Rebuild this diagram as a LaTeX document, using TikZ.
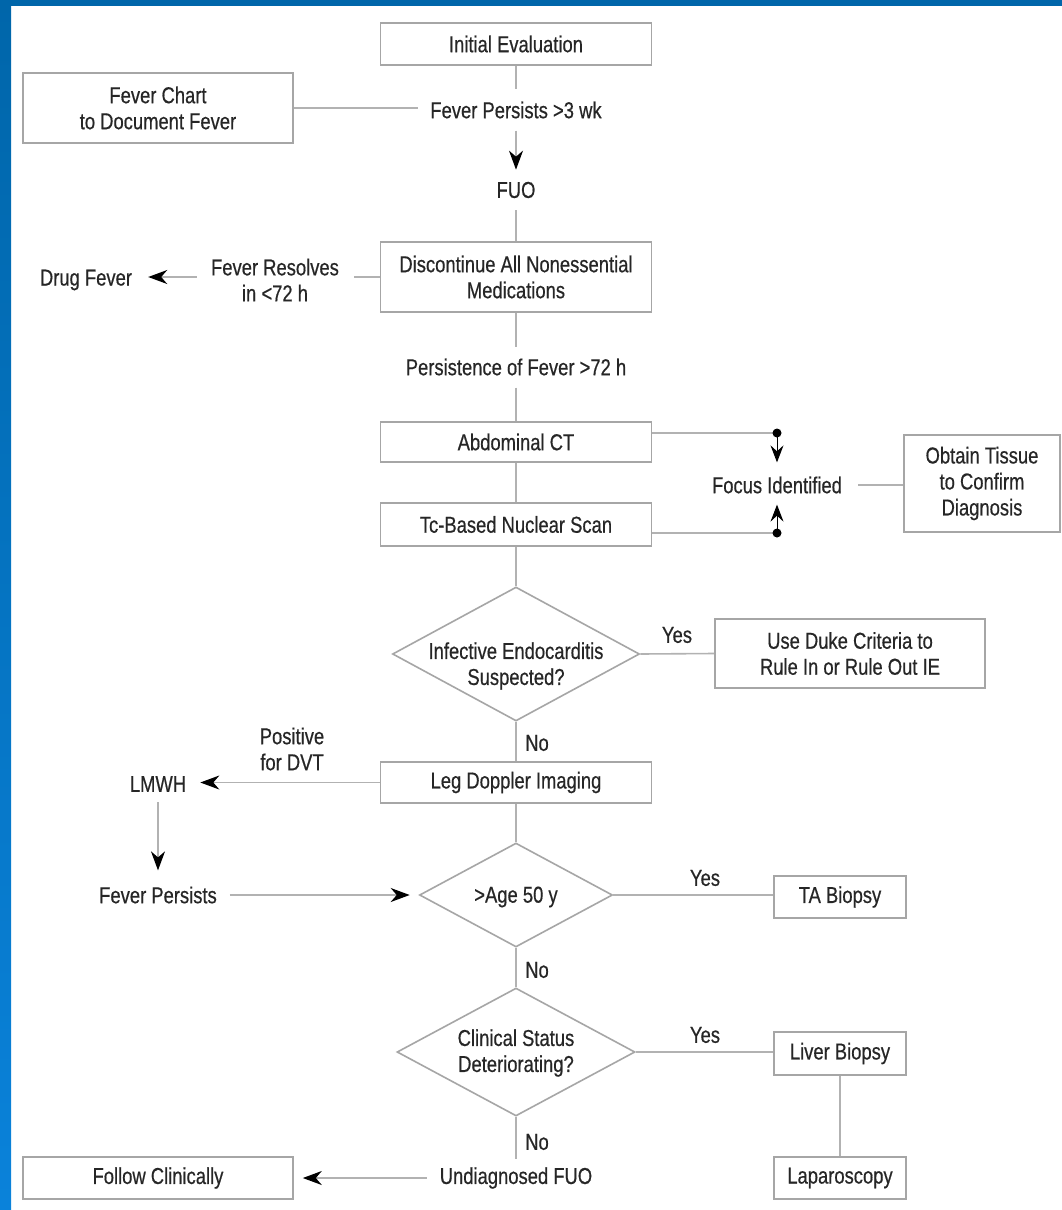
\documentclass[tikz,border=0pt]{standalone}
\usepackage{fontspec}
\setmainfont{Liberation Sans}[FakeStretch=0.8,FakeBold=0.5]
\usetikzlibrary{shapes.geometric,arrows.meta}
\definecolor{boxc}{HTML}{A6A6A6}
\definecolor{linec}{HTML}{B2B2B2}
\definecolor{textc}{HTML}{262626}
\definecolor{bluetop}{HTML}{0066AA}
\definecolor{bluebot}{HTML}{0A82DA}
\tikzset{
  txt/.style={font=\fontsize{23}{26}\selectfont, text=textc, inner sep=0pt, align=center},
  boxn/.style={txt, draw=boxc, line width=1.6pt, rectangle},
  dia/.style={draw=boxc, line width=1.6pt, diamond, inner sep=0pt},
  conn/.style={draw=linec, line width=1.6pt},
  arr/.style={conn, -{Stealth[length=19pt,width=14pt,inset=6pt,black]}},
  darr/.style={draw=black, line width=1pt, -{Stealth[length=17pt,width=13pt,inset=6pt,black]}},
}
\begin{document}
\begin{tikzpicture}[x=1pt,y=-1pt]
\useasboundingbox (0,0) rectangle (1062,1210);
\fill[white] (0,0) rectangle (1062,1210);
\shade[top color=bluetop,bottom color=bluebot] (0,0) rectangle (11,1210);
\fill[bluetop] (0,0) rectangle (1062,6);

% nodes
\node[boxn, minimum width=271, minimum height=42] (ie) at (516,44) {Initial Evaluation};
\node[txt] (fp3) at (516,110) {Fever Persists >3 wk};
\node[boxn, minimum width=270, minimum height=70] (fc) at (158,108) {Fever Chart\\to Document Fever};
\node[txt] (fuo) at (516,190) {FUO};
\node[boxn, minimum width=271, minimum height=70] (dc) at (516,277) {Discontinue All Nonessential\\Medications};
\node[txt] (df) at (86,280) {Drug Fever};
\node[txt] (fr) at (275,280) {Fever Resolves\\in <72 h};
\node[txt] (pf) at (516,367) {Persistence of Fever >72 h};
\node[boxn, minimum width=271, minimum height=40] (act) at (516,442) {Abdominal CT};
\node[boxn, minimum width=271, minimum height=43] (tc) at (516,524.5) {Tc-Based Nuclear Scan};
\node[txt] (fi) at (777,485) {Focus Identified};
\node[boxn, minimum width=156, minimum height=97] (ot) at (982,483.5) {Obtain Tissue\\to Confirm\\Diagnosis};
\node[dia, minimum width=247, minimum height=134] (d1) at (516,654) {};
\node[txt] (d1t) at (516,666) {Infective Endocarditis\\Suspected?};
\node[boxn, minimum width=270, minimum height=69] (duke) at (850,653.5) {Use Duke Criteria to\\Rule In or Rule Out IE};
\node[boxn, minimum width=271, minimum height=41] (leg) at (516,782.5) {Leg Doppler Imaging};
\node[txt] (lmwh) at (158,784) {LMWH};
\node[txt] (pos) at (292,749) {Positive\\for DVT};
\node[txt] (fp) at (158,895) {Fever Persists};
\node[dia, minimum width=193, minimum height=104] (d2) at (516,895) {};
\node[txt] (d2t) at (516,897) {>Age 50 y};
\node[boxn, minimum width=132, minimum height=42] (ta) at (840,897) {TA Biopsy};
\node[dia, minimum width=238, minimum height=128] (d3) at (516,1052) {};
\node[txt] (d3t) at (516,1053) {Clinical Status\\Deteriorating?};
\node[boxn, minimum width=132, minimum height=43] (lb) at (840,1053.5) {Liver Biopsy};
\node[boxn, minimum width=132, minimum height=42] (lap) at (840,1178) {Laparoscopy};
\node[txt] (ufuo) at (516,1178) {Undiagnosed FUO};
\node[boxn, minimum width=270, minimum height=42] (follow) at (158,1178) {Follow Clinically};

% labels
\node[txt] (y1) at (677,635) {Yes};
\node[txt] (n1) at (537,743) {No};
\node[txt] (y2) at (705,878) {Yes};
\node[txt] (n2) at (537,970) {No};
\node[txt] (y3) at (705,1035) {Yes};
\node[txt] (n3) at (537,1142) {No};

\coordinate (dot1) at (777,433);
\coordinate (dot2) at (777,533);

% connectors
\draw[conn, shorten >=12pt] (ie.south) -- (fp3.north);
\draw[conn, shorten >=12pt] (fc.east) -- (fc.east -| fp3.west);
\draw[arr, shorten <=12pt, shorten >=12pt] (fp3.south) -- (fuo.north);
\draw[conn, shorten <=12pt] (fuo.south) -- (dc.north);
\draw[conn, shorten >=15pt] (dc.west) -- (dc.west -| fr.east);
\draw[arr, shorten <=14pt, shorten >=16pt] (fr.west |- dc.west) -- (df.east |- dc.west);
\draw[conn, shorten >=11pt] (dc.south) -- (pf.north);
\draw[conn, shorten <=12pt] (pf.south) -- (act.north);
\draw[conn] (act.south) -- (tc.north);
\draw[conn] (act.east |- dot1) -- (dot1);
\draw[conn] (tc.east |- dot2) -- (dot2);
\fill[black] (dot1) circle (4.5pt);
\fill[black] (dot2) circle (4.5pt);
\draw[darr, shorten >=14pt] (dot1) -- (fi.north);
\draw[darr, shorten >=11pt] (dot2) -- (fi.south);
\draw[conn, shorten <=16pt] (fi.east) -- (fi.east -| ot.west);
\draw[conn] (tc.south) -- (d1.north);
\draw[conn] (d1.east) -- (duke.west);
\draw[conn] (d1.south) -- (leg.north);
\draw[arr, shorten >=14pt] (leg.west) -- (leg.west -| lmwh.east);
\draw[arr, shorten <=10pt, shorten >=16pt] (lmwh.south) -- (fp.north);
\draw[arr, shorten <=13pt, shorten >=9pt] (fp.east) -- (fp.east -| d2.west);
\draw[conn] (leg.south) -- (d2.north);
\draw[conn] (d2.east) -- (d2.east -| ta.west);
\draw[conn] (d2.south) -- (d3.north);
\draw[conn] (d3.east) -- (d3.east -| lb.west);
\draw[conn] (lb.south) -- (lap.north);
\draw[conn, shorten >=8pt] (d3.south) -- (ufuo.north);
\draw[arr, shorten <=13pt, shorten >=9pt] (ufuo.west) -- (follow.east);
\end{tikzpicture}
\end{document}
